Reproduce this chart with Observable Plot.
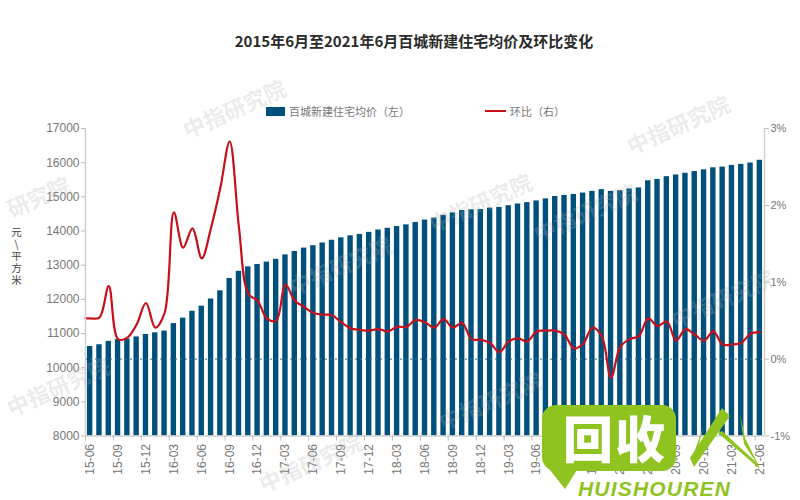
<!DOCTYPE html>
<html lang="zh">
<head>
<meta charset="utf-8">
<script src="https://cdn.jsdelivr.net/npm/d3@7"></script>
<script src="https://cdn.jsdelivr.net/npm/@observablehq/plot@0.6"></script>
<style>
html,body{margin:0;padding:0;background:#fff;width:800px;height:500px;overflow:hidden}
body{position:relative;font-family:"Liberation Sans","Noto Sans CJK SC",sans-serif}
#head{position:relative;height:118px}
#title{position:absolute;left:0;width:828px;top:30px;text-align:center;font:700 15px/22px "Noto Sans CJK SC",sans-serif;color:#2b2b2b}
.lg{position:absolute;top:104px;font:11px/15px "Noto Sans CJK SC",sans-serif;color:#777;white-space:nowrap}
.sw{position:absolute}
#ylab{position:absolute;left:9px;top:227px;writing-mode:vertical-rl;text-orientation:upright;letter-spacing:1.5px;font:10.5px/14px "Noto Sans CJK SC",sans-serif;color:#444;white-space:nowrap}
#chart svg{display:block;overflow:visible;background:transparent}
.wm{position:absolute;font:700 22px/27px "Noto Sans CJK SC",sans-serif;color:rgba(175,175,175,.27);transform:translate(-50%,-50%) rotate(-24deg);white-space:nowrap;pointer-events:none}
#logo{position:absolute;left:542px;top:405px;width:134px;height:66px;background:#8fc31f;border-radius:14px}
#logotext{position:absolute;left:563px;top:402px;width:110px;font:900 50px/68px "Noto Sans CJK SC",sans-serif;color:#fff;white-space:nowrap;letter-spacing:2px}
#logoname{position:absolute;left:576px;top:477px;font:italic 700 21px/23px "Liberation Sans",sans-serif;color:#8fc31f;letter-spacing:1.2px;background:#fff;padding:0 3px 0 2px}
#logomark{position:absolute;left:0;top:0}
</style>
</head>
<body>
<div id="head">
  <div id="title">2015年6月至2021年6月百城新建住宅均价及环比变化</div>
  <div class="sw" style="left:266px;top:107px;width:19px;height:9px;background:#00507c"></div>
  <div class="lg" style="left:289px">百城新建住宅均价（左）</div>
  <div class="sw" style="left:485px;top:110px;width:21px;height:2px;background:#c8101a"></div>
  <div class="lg" style="left:510px">环比（右）</div>
</div>
<div id="ylab">元\平方米</div>
<div id="chart"></div>
<script>
const monthLabels = ["15-06","15-09","15-12","16-03","16-06","16-09","16-12","17-03","17-06","17-09","17-12","18-03","18-06","18-09","18-12","19-03","19-06","19-09","19-12","20-03","20-06","20-09","20-12","21-03","21-06"];
const avgPrice = [10620,10670,10770,10820,10840,10900,10970,11020,11070,11290,11450,11650,11800,12010,12250,12610,12820,12950,13020,13090,13170,13300,13400,13500,13570,13650,13730,13800,13860,13900,13960,14030,14080,14130,14180,14250,14320,14380,14460,14530,14600,14620,14630,14670,14690,14740,14790,14830,14880,14940,15010,15040,15070,15110,15160,15210,15160,15180,15230,15260,15470,15510,15590,15640,15690,15740,15790,15850,15870,15920,15950,15990,16070];
const momChange = [0.53,0.54,0.95,0.26,0.28,0.45,0.73,0.41,0.60,1.91,1.45,1.70,1.31,1.71,2.23,2.83,1.71,0.85,0.76,0.53,0.50,0.97,0.76,0.68,0.60,0.58,0.57,0.48,0.40,0.38,0.37,0.39,0.36,0.42,0.42,0.51,0.48,0.41,0.52,0.41,0.47,0.26,0.25,0.21,0.09,0.23,0.27,0.23,0.36,0.37,0.37,0.32,0.14,0.20,0.41,0.30,-0.24,0.16,0.26,0.30,0.53,0.43,0.49,0.24,0.39,0.32,0.24,0.36,0.19,0.19,0.21,0.33,0.35];
const pctTicks = [-1,0,1,2,3];
const priceTicks = [8000,9000,10000,11000,12000,13000,14000,15000,16000,17000];

const idx = avgPrice.map((_, i) => i);
// The right axis (-1%..3%) shares the frame with the left axis (8000..17000).
const toLeft = p => 8000 + (p + 1) * 2250;
const toPct = v => Math.round((v - 8000) / 2250) - 1;
const linePts = [-0.5, ...idx];
const labelled = monthLabels.map((_, i) => i * 3);

const chart = Plot.plot({
  width: 800, height: 382,
  marginLeft: 85, marginRight: 36, marginTop: 10, marginBottom: 64.5,
  style: {fontFamily: '"Liberation Sans",sans-serif', background: "transparent"},
  x: {type: "linear", domain: [-0.5, 72.5], axis: null},
  y: {domain: [8000, 17000], axis: null},
  marks: [
    Plot.rectY(idx, {x1: i => i - 0.29, x2: i => i + 0.29, y1: 8000, y2: i => avgPrice[i], fill: "#00507c"}),
    Plot.ruleY([toLeft(0)], {stroke: "#2b6f96", strokeWidth: 1, strokeDasharray: "2,3"}),
    Plot.line(linePts, {x: i => i, y: i => toLeft(momChange[Math.max(0, i)]), stroke: "#c8101a", strokeWidth: 2.2, curve: "catmull-rom"}),
    Plot.ruleX([-0.5, 72.5], {stroke: "#cfcfcf", strokeWidth: 1.5}),
    Plot.ruleY([8000], {stroke: "#cfcfcf", strokeWidth: 1.5}),
    Plot.axisY(priceTicks, {anchor: "left", label: null, tickSize: 4, tickPadding: 2, stroke: "#bbb", color: "#777", fontSize: 12, tickFormat: d3.format("d")}),
    Plot.axisY(pctTicks.map(toLeft), {anchor: "right", label: null, tickSize: 4, tickPadding: 2, stroke: "#bbb", color: "#777", fontSize: 11, tickFormat: v => toPct(v) + "%"}),
    Plot.axisX(labelled.map(i => i - 0.5), {anchor: "bottom", label: null, tickSize: 5, stroke: "#bbb", tickFormat: () => ""}),
    Plot.axisX(labelled, {anchor: "bottom", label: null, tickSize: 0, tickPadding: 8, tickRotate: -90, color: "#777", fontSize: 12, tickFormat: i => monthLabels[i / 3]})
  ]
});
document.getElementById("chart").appendChild(chart);

// Faint watermarks
const watermarks = [["中指研究院",234,108],["中指研究院",678,124],["研究院",38,196],["中指研究院",480,202],["中指研究院",340,265],["中指研究院",585,212],["中指研究院",58,386],["中指研究院",310,462],["中指研究院",722,298],["中指研究院",490,400]];
for (const [txt, l, t] of watermarks) {
  const d = document.createElement("div");
  d.className = "wm"; d.textContent = txt;
  d.style.left = l + "px"; d.style.top = t + "px";
  document.body.appendChild(d);
}
</script>
<div id="logo"></div>
<svg id="logomark" width="800" height="500" viewBox="0 0 800 500">
  <polygon points="546,465 565,489 577,470" fill="#8fc31f"/>
  <polygon points="694,467 690,458 722,408 730,416" fill="#8fc31f"/>
  <polygon points="693,462 695,450 703,428 697,452" fill="#8fc31f"/>
  <polygon points="718,433 722,431 757,463 760,469" fill="#8fc31f"/>
  <polygon points="740,414 745,438 760,468 744,444" fill="#8fc31f"/>
</svg>
<div id="logotext">回收</div>
<div id="logoname">HUISHOUREN</div>
</body>
</html>
